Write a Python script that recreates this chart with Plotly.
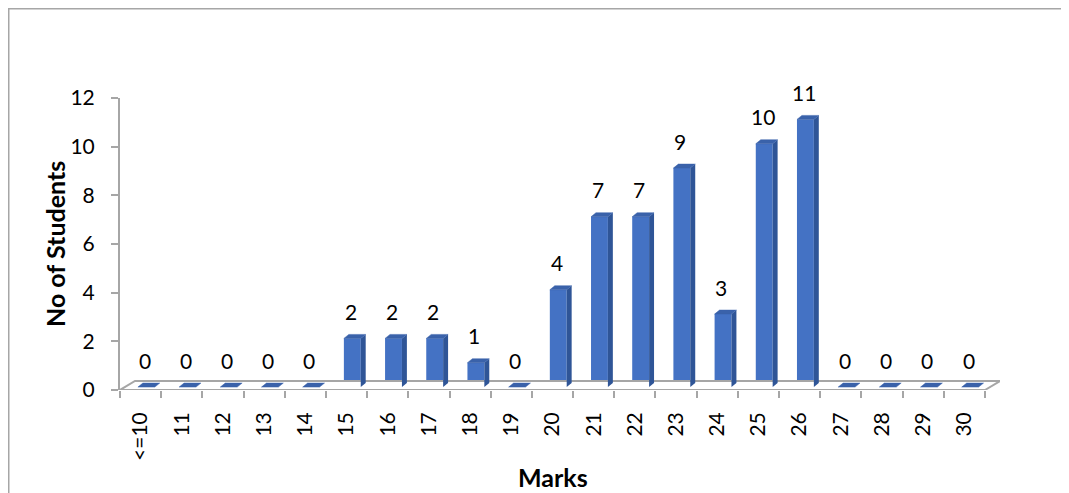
import plotly.graph_objects as go

categories = ["<=10", "11", "12", "13", "14", "15", "16", "17", "18", "19", "20",
              "21", "22", "23", "24", "25", "26", "27", "28", "29", "30"]
students = [0, 0, 0, 0, 0, 2, 2, 2, 1, 0, 4, 7, 7, 9, 3, 10, 11, 0, 0, 0, 0]
y_ticks = [0, 2, 4, 6, 8, 10, 12]

FONT = "Lato"
GRAY = "#A6A6A6"
FRONT = "#4472C4"
SIDE = "#2F5597"
TOP = "#3A62AA"

# 3D styling parameters (data units)
BASE = 0.12
SHIFT = 0.14
HALF = 0.205
DX, DY = 0.12, 0.165
FDX, FDY = 0.364, 0.37

n = len(categories)
idx = list(range(n))
xmin, xmax = -0.5, n - 0.5 + FDX

# page body has an 8px margin; compensate
L, T, PW, PH = 112, 90, 880, 292
W, H = 1069, 493

fig = go.Figure()

# floor
fig.add_trace(go.Scatter(
    x=[xmin, n - 0.5, n - 0.5 + FDX, xmin + FDX, xmin],
    y=[0, 0, FDY, FDY, 0],
    mode="lines", fill="toself", fillcolor="white",
    line=dict(color=GRAY, width=2), cliponaxis=False, hoverinfo="skip", showlegend=False))

# front faces
fig.add_trace(go.Bar(
    x=[i + SHIFT for i in idx], y=students, base=BASE, width=2 * HALF,
    marker=dict(color=FRONT, line=dict(width=0)), showlegend=False, hoverinfo="skip"))

# side and top faces
sx, sy, tx, ty = [], [], [], []
for i, v in zip(idx, students):
    x0 = i + SHIFT - HALF
    x1 = i + SHIFT + HALF
    top = BASE + v
    if v > 0:
        sx += [x1, x1 + DX, x1 + DX, x1, x1, None]
        sy += [BASE, BASE + DY, top + DY, top, BASE, None]
    tx += [x0, x1, x1 + DX, x0 + DX, x0, None]
    ty += [top, top, top + DY, top + DY, top, None]

fig.add_trace(go.Scatter(x=sx, y=sy, mode="lines", fill="toself", fillcolor=SIDE,
                         line=dict(width=0, color=SIDE), hoverinfo="skip", showlegend=False,
                         cliponaxis=False))
fig.add_trace(go.Scatter(x=tx, y=ty, mode="lines", fill="toself", fillcolor=TOP,
                         line=dict(width=0.5, color=TOP), hoverinfo="skip", showlegend=False,
                         cliponaxis=False))

annotations = []
for i, v in zip(idx, students):
    annotations.append(dict(x=i + 0.1, y=BASE + v, xref="x", yref="y", text=str(v),
                            showarrow=False, xanchor="center", yanchor="middle", yshift=27,
                            font=dict(family=FONT, size=21, color="black")))

annotations.append(dict(x=(55 - 120) / PW, y=0.5, xref="paper", yref="paper",
                        text="<b>No of Students</b>", textangle=-90, showarrow=False,
                        xanchor="center", yanchor="middle",
                        font=dict(family=FONT, size=25, color="black")))
annotations.append(dict(x=(553 - 120) / PW, y=(390 - 477) / PH, xref="paper", yref="paper",
                        text="<b>Marks</b>", showarrow=False,
                        xanchor="center", yanchor="middle",
                        font=dict(family=FONT, size=25, color="black")))

fig.update_layout(
    width=W, height=H,
    margin=dict(l=L, r=W - L - PW, t=T, b=H - T - PH),
    paper_bgcolor="white", plot_bgcolor="white",
    showlegend=False,
    annotations=annotations,
    shapes=[dict(type="rect", xref="paper", yref="paper",
                 x0=(0.75 - L) / PW, x1=1.2, y0=-0.6, y1=1 + (T - 0.75) / PH,
                 line=dict(color=GRAY, width=1.5), layer="below")],
    xaxis=dict(range=[xmin, xmax], tickmode="array", tickvals=idx, ticktext=categories,
               tickangle=-90, ticks="", showline=False, showgrid=False, zeroline=False,
               ticklabelstandoff=17,
               tickfont=dict(family=FONT, size=21, color="black"),
               minor=dict(tickmode="linear", tick0=-0.5, dtick=1, ticks="outside",
                          ticklen=7, tickcolor=GRAY, tickwidth=1.5, showgrid=False)),
    yaxis=dict(range=[0, 12], tickmode="array", tickvals=y_ticks, ticks="outside",
               ticklen=7, tickcolor=GRAY, tickwidth=1.5, showline=True, linecolor=GRAY,
               linewidth=2, showgrid=False, zeroline=False, ticklabelstandoff=12,
               tickfont=dict(family=FONT, size=21, color="black")),
)

fig.write_html("out.html")
